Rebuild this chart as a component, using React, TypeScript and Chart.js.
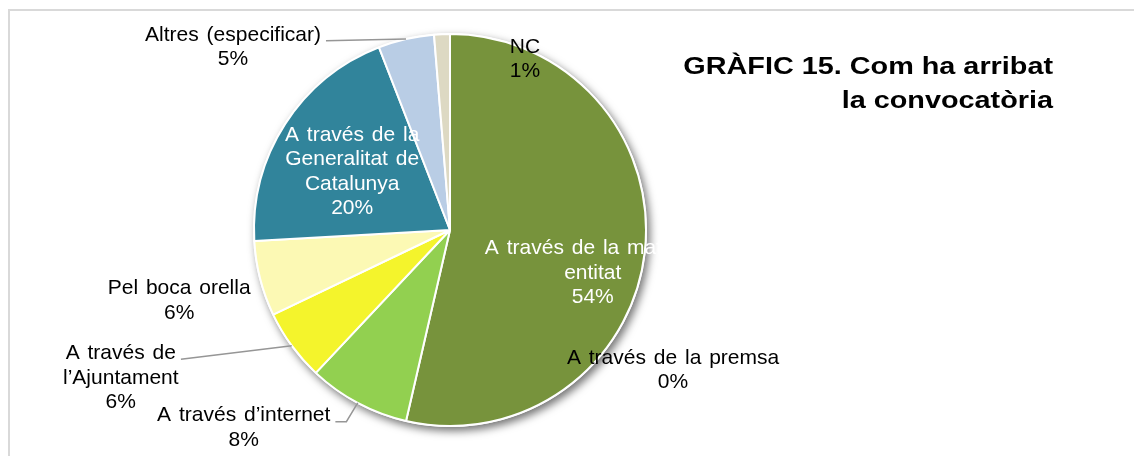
import React, { useEffect, useRef } from "react";
import { Chart, registerables } from "chart.js";

Chart.register(...registerables);

const categories = [
  "A través de la mateixa entitat",
  "A través de la premsa",
  "A través d’internet",
  "A través de l’Ajuntament",
  "Pel boca orella",
  "A través de la Generalitat de Catalunya",
  "Altres (especificar)",
  "NC",
];
const values = [53.6, 0, 8.4, 5.9, 6.2, 20.0, 4.6, 1.3];
const colors = ["#77933C", "#4F81BD", "#92D050", "#F4F42C", "#FCF9B4", "#31849B", "#B9CDE5", "#DDD9C3"];
const labelLines = [
  ["A través de la mateixa", "entitat"],
  ["A través de la premsa"],
  ["A través d’internet"],
  ["A través de", "l’Ajuntament"],
  ["Pel boca orella"],
  ["A través de la", "Generalitat de", "Catalunya"],
  ["Altres (especificar)"],
  ["NC"],
];
const titleLines = ["GRÀFIC 15. Com ha arribat", "la convocatòria"];

// label placement relative to the outer arc point at each slice's mid angle
const labelPlacement = [
  { dx: -52, dy: 21, color: "#FFFFFF", leader: "none" },
  { dx: 267, dy: -51, color: "#000000", leader: "none" },
  { dx: -114, dy: 25, color: "#000000", leader: "elbow" },
  { dx: -171, dy: 32, color: "#000000", leader: "straight" },
  { dx: -81, dy: 22, color: "#000000", leader: "none" },
  { dx: 67, dy: 48, color: "#FFFFFF", leader: "none" },
  { dx: -173, dy: 8, color: "#000000", leader: "straight" },
  { dx: 83, dy: 25, color: "#000000", leader: "none" },
];

const FONT = '"Liberation Sans", Arial, sans-serif';

const shadowPlugin = {
  id: "pieShadow",
  beforeDatasetsDraw(chart: any) {
    const meta = chart.getDatasetMeta(0);
    const arc = meta.data[0];
    if (!arc) return;
    const ctx = chart.ctx;
    ctx.save();
    ctx.shadowColor = "rgba(0,0,0,0.55)";
    ctx.shadowBlur = 8;
    ctx.shadowOffsetX = 3;
    ctx.shadowOffsetY = 4;
    ctx.beginPath();
    ctx.arc(arc.x, arc.y, arc.outerRadius + 1, 0, Math.PI * 2);
    ctx.fillStyle = "#FFFFFF";
    ctx.fill();
    ctx.restore();
  },
};

const labelPlugin = {
  id: "pieLabels",
  afterDatasetsDraw(chart: any) {
    const ctx = chart.ctx;
    const meta = chart.getDatasetMeta(0);
    const total = values.reduce((a, b) => a + b, 0);
    const lineH = 24.5;
    ctx.save();
    ctx.font = `21px ${FONT}`;
    (ctx as any).wordSpacing = "2px";
    ctx.textAlign = "center";
    ctx.textBaseline = "middle";
    meta.data.forEach((arc: any, i: number) => {
      const mid = (arc.startAngle + arc.endAngle) / 2;
      const R = arc.outerRadius;
      const px = arc.x + R * Math.cos(mid);
      const py = arc.y + R * Math.sin(mid);
      const pl = labelPlacement[i];
      const cx = px + pl.dx;
      const cy = py + pl.dy;
      const lines = [...labelLines[i], Math.round((values[i] / total) * 100) + "%"];
      const y0 = cy - ((lines.length - 1) * lineH) / 2;
      if (pl.leader !== "none") {
        const w1 = ctx.measureText(lines[0]).width;
        const ex = cx + w1 / 2 + 5;
        const ey = y0 + 6;
        ctx.strokeStyle = "#969696";
        ctx.lineWidth = 1.5;
        ctx.beginPath();
        ctx.moveTo(ex, ey);
        if (pl.leader === "elbow") ctx.lineTo(ex + 11, ey);
        ctx.lineTo(px, py);
        ctx.stroke();
      }
      ctx.fillStyle = pl.color;
      lines.forEach((t, k) => ctx.fillText(t, cx, y0 + k * lineH));
    });
    ctx.restore();

    // title
    ctx.save();
    ctx.font = `bold 24px ${FONT}`;
    ctx.fillStyle = "#000000";
    ctx.textAlign = "right";
    ctx.textBaseline = "alphabetic";
    titleLines.forEach((t, k) => {
      ctx.save();
      ctx.translate(1053, 74 + k * 34);
      ctx.scale(1.2, 1);
      ctx.fillText(t, 0, 0);
      ctx.restore();
    });
    ctx.restore();
  },
};

export default function App() {
  const ref = useRef<HTMLCanvasElement | null>(null);
  useEffect(() => {
    if (!ref.current) return;
    const chart = new Chart(ref.current, {
      type: "pie",
      data: {
        labels: categories,
        datasets: [
          {
            data: values,
            backgroundColor: colors,
            borderColor: "#FFFFFF",
            borderWidth: 2,
          },
        ],
      },
      options: {
        animation: false,
        responsive: false,
        layout: { padding: { left: 253, right: 487, top: 33, bottom: 29 } },
        plugins: {
          legend: { display: false },
          tooltip: { enabled: false },
          title: { display: false },
        },
      },
      plugins: [shadowPlugin, labelPlugin],
    });
    return () => chart.destroy();
  }, []);
  return (
    <div style={{ position: "fixed", left: 0, top: 0, width: 1134, height: 456, overflow: "hidden", background: "#FFFFFF" }}>
      <div
        style={{
          position: "absolute",
          left: 8,
          top: 9,
          width: 1300,
          height: 700,
          border: "2px solid #D9D9D9",
        }}
      />
      <canvas ref={ref} width={1134} height={456} style={{ position: "absolute", left: 0, top: 0, display: "block" }} />
    </div>
  );
}
